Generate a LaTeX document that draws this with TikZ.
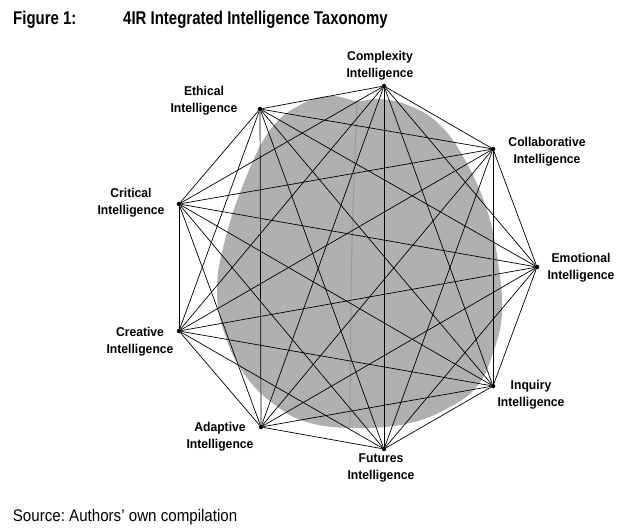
\documentclass[tikz,border=0pt]{standalone}
\usepackage{fontspec}
\setmainfont{Liberation Sans}
\newfontfamily\narrowfont[FakeStretch=0.81]{Liberation Sans}
\newfontfamily\tagfont[FakeStretch=0.95]{Liberation Sans}
\newfontfamily\srcfont[FakeStretch=0.9]{Liberation Sans}
\tikzset{
	dot/.style={circle, fill=black, inner sep=0pt, minimum size=4.5pt},
	link/.style={line width=0.7pt},
	tag/.style={align=center, anchor=north, inner sep=0pt,
		font=\tagfont\bfseries\fontsize{12.8}{17}\selectfont},
	heading/.style={anchor=base west, inner sep=0pt,
		font=\narrowfont\bfseries\fontsize{18.5}{20}\selectfont}
}
\begin{document}
\begin{tikzpicture}[x=1pt,y=-1pt]
		\useasboundingbox (0,0) rectangle (634,532);
		% brain behind the net
		\fill [gray!62] plot [smooth cycle, tension=0.7] coordinates {
		(357,101) (380,99) (410,106) (440,125) (465,160) (487,210) (498,262)
		(502,312) (494,350) (478,385) (450,407) (410,423) (360,428) (310,423)
		(275,405) (245,375) (225,335) (217,290) (225,240) (245,180) (270,130)
		(300,105) (330,96)};
		\draw [gray!80, line width=1pt] (357,101) .. controls (351,260) .. (350,425);
		% corners
		\node [dot] (cplx) at (384,86) {};
		\node [dot] (coll) at (493,149) {};
		\node [dot] (emot) at (537,267) {};
		\node [dot] (inq) at (493,386) {};
		\node [dot] (fut) at (384,449) {};
		\node [dot] (adap) at (261,427) {};
		\node [dot] (crea) at (179,331) {};
		\node [dot] (crit) at (179,204) {};
		\node [dot] (eth) at (260,109) {};
		% every corner to every other
		\foreach \a [count=\i] in {cplx,coll,emot,inq,fut,adap,crea,crit,eth}
		\foreach \b [count=\j] in {cplx,coll,emot,inq,fut,adap,crea,crit,eth}
		{\ifnum\j>\i \draw [link] (\a) -- (\b); \fi}
		% labels
		\node [tag] (cplxtxt) at (380,51) {Complexity\\Intelligence};
		\node [tag] (colltxt) at (547,137) {Collaborative\\Intelligence};
		\node [tag] (emottxt) at (581,253) {Emotional\\Intelligence};
		\node [tag] (inqtxt) at (531,380) {Inquiry\\Intelligence};
		\node [tag] (futtxt) at (381,453) {Futures\\Intelligence};
		\node [tag] (adaptxt) at (220,422) {Adaptive\\Intelligence};
		\node [tag] (creatxt) at (140,327) {Creative\\Intelligence};
		\node [tag] (crittxt) at (131,188) {Critical\\Intelligence};
		\node [tag] (ethtxt) at (204,86) {Ethical\\Intelligence};
		\node [heading] (fig) at (13,25) {Figure 1:};
		\node [heading] (title) at (123,25) {4IR Integrated Intelligence Taxonomy};
		\node [anchor=base west, inner sep=0pt, font=\srcfont\fontsize{16.8}{18}\selectfont]
		(src) at (12.7,521) {\frenchspacing Source: Authors’ own compilation};
\end{tikzpicture}
\end{document}
